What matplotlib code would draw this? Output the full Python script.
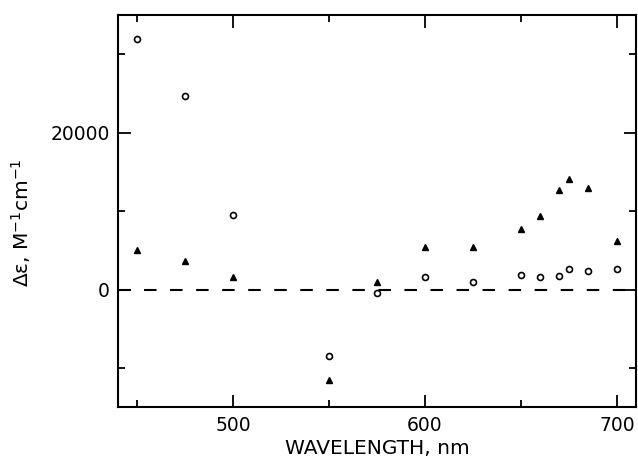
import numpy as np
import matplotlib
matplotlib.use('Agg')
import matplotlib.pyplot as plt
from matplotlib.ticker import MultipleLocator

# data
wavelength = [450, 475, 500, 550, 575, 600, 625, 650, 660, 670, 675, 685, 700]
de_circle = [32000, 24700, 9500, -8500, -400, 1600, 950, 1900, 1600, 1800, 2600, 2400, 2600]
de_triangle = [5100, 3700, 1650, -11500, 1000, 5450, 5500, 7800, 9450, 12650, 14150, 13000, 6200]

x_ticks = [500, 600, 700]
y_ticks = [0, 20000]

plt.rcParams['font.family'] = 'DejaVu Sans'
plt.rcParams['mathtext.fontset'] = 'dejavusans'

fig = plt.figure(figsize=(6.38, 4.62), dpi=100)
ax = fig.add_axes([0.185, 0.118, 0.812, 0.8495])

ax.axhline(0, color='black', lw=1.5, dashes=(6, 6.5))
ax.plot(wavelength, de_circle, 'o', ms=4.3, mfc='white', mec='black', mew=1.2, ls='none')
ax.plot(wavelength, de_triangle, '^', ms=5, color='black', ls='none')

ax.set_xlim(440, 710)
ax.set_ylim(-15000, 35000)
ax.set_xticks(x_ticks)
ax.set_yticks(y_ticks)
ax.xaxis.set_minor_locator(MultipleLocator(50))
ax.yaxis.set_minor_locator(MultipleLocator(10000))

ax.tick_params(which='both', direction='in', top=True, right=True, width=1.3,
               labelsize=13.5, pad=6)
ax.tick_params(which='major', length=9)
ax.tick_params(which='minor', length=5)
for s in ax.spines.values():
    s.set_linewidth(1.5)

ax.set_xlabel('WAVELENGTH, nm', fontsize=14.5, labelpad=3)
ax.set_ylabel('Δε, M$^{-1}$cm$^{-1}$', fontsize=14.5)
ax.yaxis.set_label_coords(-0.165, 0.47)

fig.savefig('out.png', dpi=100)
